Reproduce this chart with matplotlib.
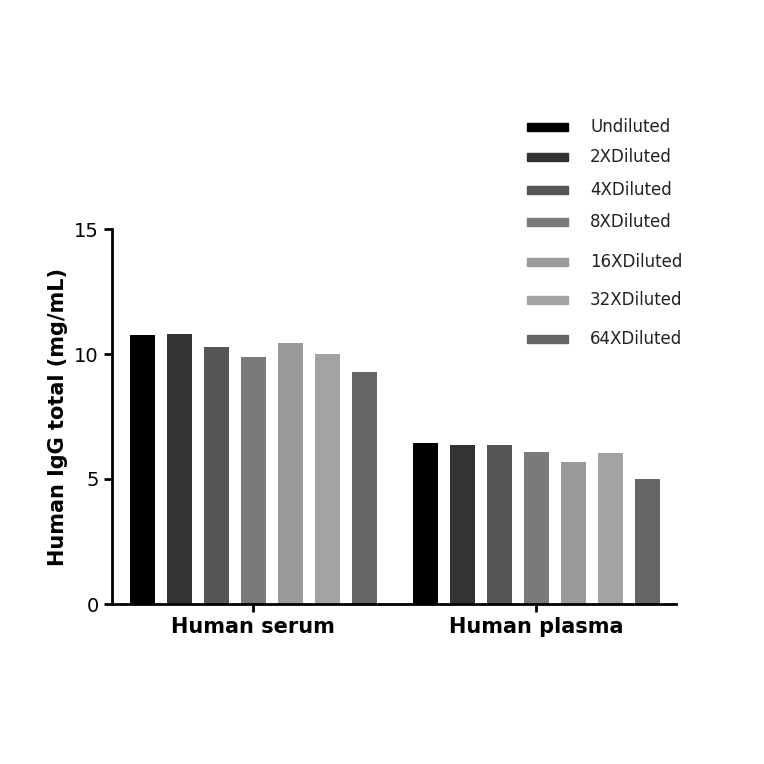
import matplotlib
matplotlib.use("Agg")
import matplotlib.pyplot as plt
from matplotlib.patches import Rectangle

groups = ["Human serum", "Human plasma"]
series = ["Undiluted", "2XDiluted", "4XDiluted", "8XDiluted", "16XDiluted", "32XDiluted", "64XDiluted"]
serum = [10.75, 10.8, 10.3, 9.9, 10.45, 10.0, 9.3]
plasma = [6.45, 6.35, 6.35, 6.1, 5.7, 6.05, 5.0]
colors = ["#000000", "#333333", "#555555", "#7a7a7a", "#9a9a9a", "#a3a3a3", "#666666"]

W, H = 764, 764
fig = plt.figure(figsize=(7.64, 7.64), dpi=100)
ax = fig.add_axes([112/W, 1-604/H, (676-112)/W, (604-229)/H])
gap = 7.65
for i, (s, c) in enumerate(zip(series, colors)):
    vals = [serum[i], plasma[i]]
    xs = [g*gap + (i-3) for g in range(2)]
    ax.bar(xs, vals, width=0.68, color=c)
ax.set_xlim(-3.82, 11.42)
ax.set_ylim(0, 15)
ax.set_yticks([0, 5, 10, 15])
ax.set_xticks([0, gap])
ax.set_xticklabels(groups, fontsize=15, fontweight="bold")
ax.tick_params(axis="y", labelsize=14, width=2, length=6)
ax.tick_params(axis="x", width=2, length=6)
for sp in ["top", "right"]:
    ax.spines[sp].set_visible(False)
for sp in ["left", "bottom"]:
    ax.spines[sp].set_linewidth(2)
ax.set_ylabel("Human IgG total (mg/mL)", fontsize=15, fontweight="bold")

leg_y = [127, 157, 190, 222, 262, 300, 339]
for s, c, y in zip(series, colors, leg_y):
    fig.patches.append(Rectangle((527/W, 1-(y+4)/H), 41/W, 8/H, color=c, transform=fig.transFigure))
    fig.text(590/W, 1-y/H, s, fontsize=12, va="center", ha="left", color="#222222")

fig.savefig("out.png", dpi=100)
